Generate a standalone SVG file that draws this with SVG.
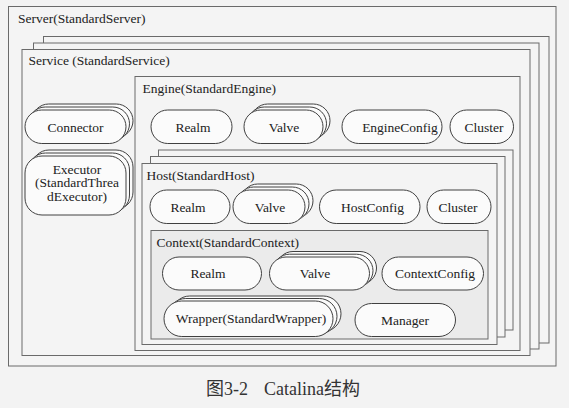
<svg xmlns="http://www.w3.org/2000/svg" width="569" height="408" viewBox="0 0 569 408">
<style>
.box{fill:#f4f4f4;stroke:#6a6a6a;stroke-width:1}
.ctx{fill:#ebebeb;stroke:#6a6a6a;stroke-width:1}
.pill{fill:#fbfbfb;stroke:#404040;stroke-width:1}
.t{font-family:"Liberation Serif","Times New Roman",serif;font-size:13.5px;fill:#222}
.c{text-anchor:middle}
.cap{font-family:"Liberation Serif","Noto Sans CJK SC",serif;font-size:18px;fill:#333}
</style>
<rect width="569" height="408" fill="#f3f3f3"/>
<g id="server">
<rect class="box" x="8.5" y="6.5" width="547.5" height="359.5"/>
<text class="t" x="18" y="23">Server(StandardServer)</text>
</g>
<g id="service">
<rect class="box" x="43.5" y="36.5" width="505.5" height="306.5"/>
<rect class="box" x="33.5" y="43" width="505.5" height="306"/>
<rect class="box" x="22" y="49.5" width="508" height="306"/>
<text class="t" x="28.5" y="65">Service (StandardService)</text>
</g>
<g id="connector">
<rect class="pill" x="32" y="104" width="101" height="33.5" rx="16.75"/>
<rect class="pill" x="28.5" y="107" width="101" height="33.5" rx="16.75"/>
<rect class="pill" x="25" y="110" width="101" height="33.5" rx="16.75"/>
<text class="t c" x="75.5" y="131.5">Connector</text>
</g>
<g id="executor">
<rect class="pill" x="32" y="150" width="101" height="59" rx="17"/>
<rect class="pill" x="28.5" y="153" width="101" height="59" rx="17"/>
<rect class="pill" x="25" y="156" width="101" height="59" rx="17"/>
<text class="t c" x="77" y="173.5">Executor</text>
<text class="t c" x="77" y="187">(StandardThrea</text>
<text class="t c" x="77" y="200.5">dExecutor)</text>
</g>
<g id="engine">
<rect class="box" x="135" y="76.5" width="385" height="274"/>
<text class="t" x="142.5" y="92.5">Engine(StandardEngine)</text>
</g>
<g id="engine-realm">
<rect class="pill" x="151" y="110" width="81" height="33.5" rx="16.75"/>
<text class="t c" x="193" y="131.5">Realm</text>
</g>
<g id="engine-valve">
<rect class="pill" x="251" y="104" width="79" height="33.5" rx="16.75"/>
<rect class="pill" x="247.5" y="107" width="79" height="33.5" rx="16.75"/>
<rect class="pill" x="244" y="110" width="79" height="33.5" rx="16.75"/>
<text class="t c" x="284" y="131.5">Valve</text>
</g>
<g id="engine-config">
<rect class="pill" x="342" y="110" width="100" height="33.5" rx="16.75"/>
<text class="t c" x="400" y="131.5">EngineConfig</text>
</g>
<g id="engine-cluster">
<rect class="pill" x="450" y="110" width="63.5" height="33.5" rx="16.75"/>
<text class="t c" x="484" y="131.5">Cluster</text>
</g>
<g id="host">
<rect class="box" x="158.5" y="150" width="354.5" height="180"/>
<rect class="box" x="150.5" y="156.5" width="354.5" height="180.5"/>
<rect class="box" x="142" y="163.5" width="355" height="181"/>
<text class="t" x="146.5" y="179.5">Host(StandardHost)</text>
</g>
<g id="host-realm">
<rect class="pill" x="150" y="190" width="80" height="33.5" rx="16.75"/>
<text class="t c" x="188" y="211.5">Realm</text>
</g>
<g id="host-valve">
<rect class="pill" x="241" y="184" width="72" height="33.5" rx="16.75"/>
<rect class="pill" x="237" y="187" width="72" height="33.5" rx="16.75"/>
<rect class="pill" x="233" y="190" width="72" height="33.5" rx="16.75"/>
<text class="t c" x="270" y="211.5">Valve</text>
</g>
<g id="host-config">
<rect class="pill" x="319.5" y="190" width="100.5" height="33.5" rx="16.75"/>
<text class="t c" x="372.5" y="211.5">HostConfig</text>
</g>
<g id="host-cluster">
<rect class="pill" x="427" y="190" width="64" height="33.5" rx="16.75"/>
<text class="t c" x="458" y="211.5">Cluster</text>
</g>
<g id="context">
<rect class="ctx" x="151" y="230.5" width="337" height="108.5"/>
<text class="t" x="156.5" y="246.5">Context(StandardContext)</text>
</g>
<g id="context-realm">
<rect class="pill" x="162.5" y="257" width="99" height="33" rx="16.5"/>
<text class="t c" x="208" y="278">Realm</text>
</g>
<g id="context-valve">
<rect class="pill" x="276.5" y="251.5" width="100" height="33" rx="16.5"/>
<rect class="pill" x="273" y="254.2" width="100" height="33" rx="16.5"/>
<rect class="pill" x="269.5" y="257" width="100" height="33" rx="16.5"/>
<text class="t c" x="315" y="278">Valve</text>
</g>
<g id="context-config">
<rect class="pill" x="382" y="257" width="101.5" height="33" rx="16.5"/>
<text class="t c" x="435" y="278">ContextConfig</text>
</g>
<g id="wrapper">
<rect class="pill" x="172" y="296" width="169" height="35.5" rx="17.75"/>
<rect class="pill" x="168" y="298.5" width="169" height="35.5" rx="17.75"/>
<rect class="pill" x="164" y="301" width="169" height="35.5" rx="17.75"/>
<text class="t c" x="251" y="323">Wrapper(StandardWrapper)</text>
</g>
<g id="manager">
<rect class="pill" x="355" y="303.5" width="100.5" height="33" rx="16.5"/>
<text class="t c" x="405" y="324.5">Manager</text>
</g>
<g id="connectors"></g>
<text class="cap" x="206" y="395">图3-2<tspan x="264">Catalina结构</tspan></text>
</svg>
